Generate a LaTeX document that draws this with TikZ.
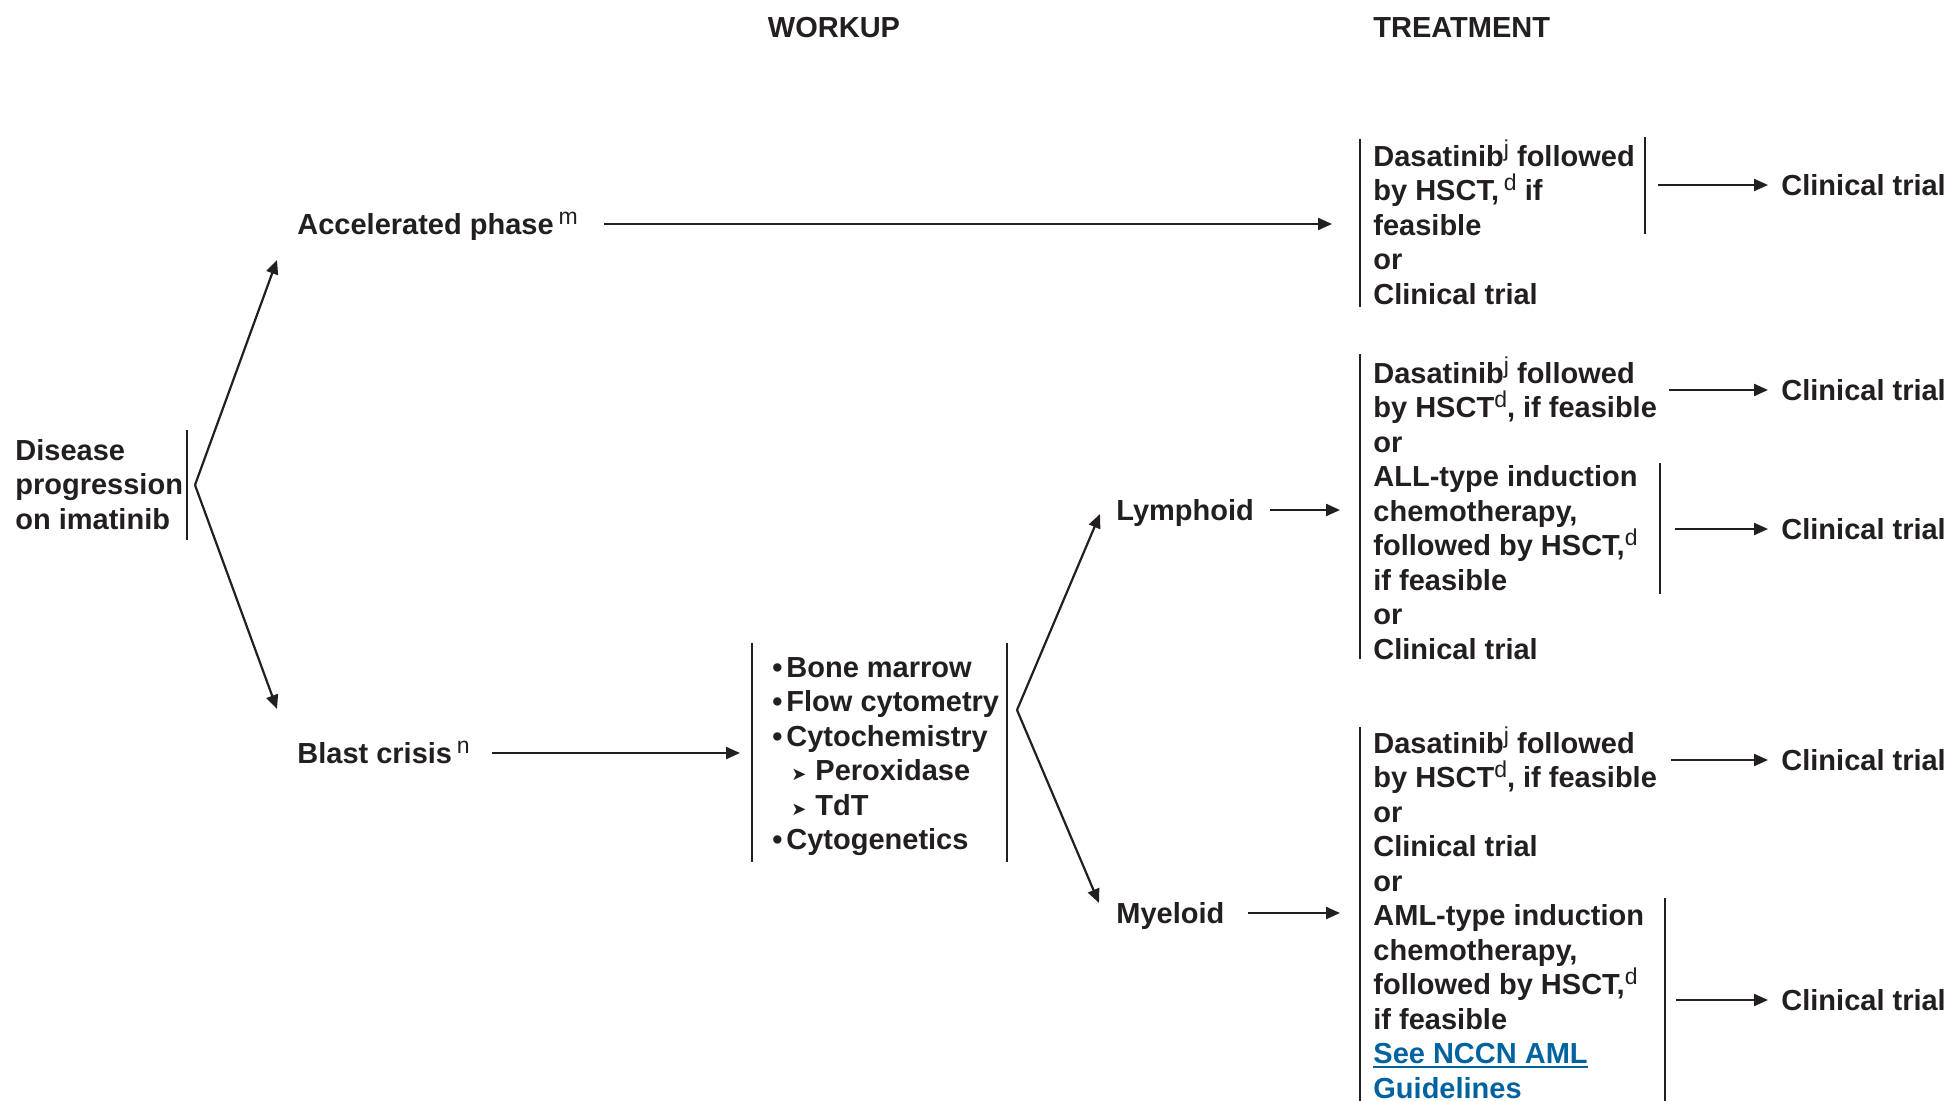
\documentclass[tikz,border=0pt]{standalone}
\usepackage{fontspec}
\setmainfont{Liberation Sans}
\newfontfamily\arrowglyphfont{DejaVu Sans}
\usetikzlibrary{arrows.meta}
\definecolor{ink}{HTML}{231F20}
\definecolor{nccnblue}{RGB}{0,99,160}
\newcommand{\supnote}[1]{\raisebox{5pt}[0pt][0pt]{\fontsize{11.5pt}{11.5pt}\selectfont\mdseries #1}}
\newsavebox{\linkbox}
\newcommand{\nccnlink}[1]{{\color{nccnblue}\sbox{\linkbox}{#1}\rlap{\rule[-2.2pt]{\wd\linkbox}{1pt}}\usebox{\linkbox}}}
\newcommand{\wbul}{\makebox[7pt][l]{\textbullet}}
\newcommand{\wsub}{\hspace*{9.5pt}\makebox[12pt][l]{\arrowglyphfont\fontsize{9pt}{9pt}\selectfont ➤}}

\begin{document}
\begin{tikzpicture}[x=0.5pt, y=-0.5pt, color=ink, font=\fontsize{14.5pt}{17.25pt}\selectfont\bfseries,
        label/.style={anchor=west, inner sep=0pt, text height=10.4pt, text depth=0pt},
        txtbox/.style={anchor=north west, inner sep=0pt, align=left},
        arr/.style={-{Triangle[length=7pt, width=6pt]}, line width=1.1pt},
        toct/.style={shorten >=6.5pt},
        bar/.style={line width=1.1pt}]
            \useasboundingbox (0,0) rectangle (1950,1101);

            % column heads
            \node[label, anchor=center] (work) at (834,27) {WORKUP};
            \node[label] (treat) at (1373,27) {TREATMENT};

            % left part
            \node[txtbox] (dis) at (15,439) {Disease\\progression\\on imatinib};
            \node[label] (acc) at (297,224) {Accelerated phase\,\supnote{m}};
            \node[label] (blast) at (297,753) {Blast crisis\,\supnote{n}};
            \node[txtbox] (wk) at (772,657) {\wbul Bone marrow\\
                \wbul Flow cytometry\\
                \wbul Cytochemistry\\
                \wsub Peroxidase\\
                \wsub TdT\\
                \wbul Cytogenetics};
            \node[label] (lym) at (1116,510) {Lymphoid};
            \node[label] (my) at (1116,913) {Myeloid};

            % treatment
            \node[txtbox] (tA) at (1373,145) {Dasatinib\supnote{j} followed\\
                by HSCT,\,\supnote{d} if\\
                feasible\\
                or\\
                Clinical trial};
            \node[txtbox] (tB) at (1373,362) {Dasatinib\supnote{j} followed\\
                by HSCT\supnote{d}, if feasible\\
                or\\
                ALL-type induction\\
                chemotherapy,\\
                followed by HSCT,\supnote{d}\\
                if feasible\\
                or\\
                Clinical trial};
            \node[txtbox] (tC) at (1373,732) {Dasatinib\supnote{j} followed\\
                by HSCT\supnote{d}, if feasible\\
                or\\
                Clinical trial\\
                or\\
                AML-type induction\\
                chemotherapy,\\
                followed by HSCT,\supnote{d}\\
                if feasible\\
                \nccnlink{See NCCN AML}\\
                \nccnlink{Guidelines}};

            \node[label] (ctA) at (1781,185) {Clinical trial};
            \node[label] (ctB1) at (1781,390) {Clinical trial};
            \node[label] (ctB2) at (1781,529) {Clinical trial};
            \node[label] (ctC1) at (1781,760) {Clinical trial};
            \node[label] (ctC2) at (1781,1000) {Clinical trial};

            % bars
            \draw[bar] (187,430) -- (187,540)
                (752,643) -- (752,862)
                (1007,643) -- (1007,862)
                (1360,139) -- (1360,307)
                (1645,137) -- (1645,234)
                (1360,354) -- (1360,659)
                (1660,463) -- (1660,594)
                (1360,727) -- (1360,1101)
                (1665,898) -- (1665,1101);

            \coordinate (dfork) at (195,485);
            \coordinate (bfork) at (1017,710);
            \coordinate (rA) at (1658,185);
            \coordinate (rB1) at (1669,390);
            \coordinate (rB2) at (1675,529);
            \coordinate (rC1) at (1671,760);
            \coordinate (rC2) at (1676,1000);

            \path[arr] (dfork) edge ([xshift=-10pt, yshift=-18pt]acc.west)
                (dfork) edge ([xshift=-10pt, yshift=22pt]blast.west)
                (bfork) edge ([xshift=-8pt, yshift=-2pt]lym.west)
                (bfork) edge ([xshift=-8.5pt, yshift=5pt]my.west)
                (acc.east) edge[shorten <=13pt, shorten >=20.5pt] (acc.east -| tA.west)
                (blast.east) edge[shorten <=11pt, shorten >=16pt] (blast.east -| wk.west)
                (lym.east) edge[shorten <=8pt, shorten >=16.5pt] (lym.east -| tB.west)
                (my.east) edge[shorten <=11.5pt, shorten >=16.5pt] (my.east -| tC.west)
                (rA) edge[toct] (ctA)
                (rB1) edge[toct] (ctB1)
                (rB2) edge[toct] (ctB2)
                (rC1) edge[toct] (ctC1)
                (rC2) edge[toct] (ctC2);
        \end{tikzpicture}
\end{document}
